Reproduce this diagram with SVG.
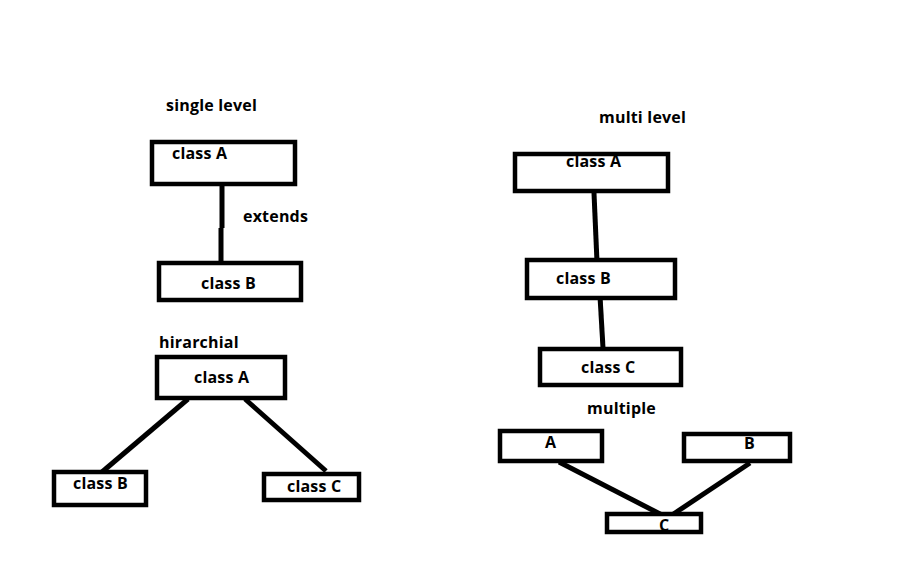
<svg xmlns="http://www.w3.org/2000/svg" width="911" height="564" viewBox="0 0 911 564">
<style>
.box{fill:#fff;stroke:#000;stroke-width:4.5}
.t{font-family:"Open Sans","Noto Sans","Liberation Sans",sans-serif;font-weight:bold;font-size:16px;letter-spacing:0.2px;fill:#000}
.ln{stroke:#000;stroke-width:5;fill:none;stroke-linecap:butt}
</style>
<rect width="911" height="564" fill="#fff"/>
<text class="t" x="166" y="111">single level</text>
<text class="t" x="159" y="348">hirarchial</text>
<text class="t" x="599" y="123">multi level</text>
<text class="t" x="587" y="414">multiple</text>
<text class="t" x="243" y="222">extends</text>
<g id="connectors">
<path class="ln" d="M222,186 L222,228 M221,228 L221,268"/>
<path class="ln" d="M188,399 L102,472"/>
<path class="ln" d="M245,399 L326,471"/>
<path class="ln" d="M594,193 L597,262"/>
<path class="ln" d="M600,296 L603,348"/>
<path class="ln" d="M559,462 L664,516"/>
<path class="ln" d="M750,463 L672,515"/>
</g>
<g id="sl-a"><rect class="box" x="152" y="142" width="143" height="42"/><text class="t" x="172" y="159">class A</text></g>
<g id="sl-b"><rect class="box" x="159" y="263" width="142" height="37"/><text class="t" x="201" y="289">class B</text></g>
<g id="h-a"><rect class="box" x="157" y="357" width="128" height="41"/><text class="t" x="194" y="383">class A</text></g>
<g id="h-b"><rect class="box" x="54" y="472" width="92" height="33"/><text class="t" x="73" y="489">class B</text></g>
<g id="h-c"><rect class="box" x="264" y="474" width="95" height="26"/><text class="t" x="287" y="492">class C</text></g>
<g id="ml-a"><rect class="box" x="515" y="154" width="153" height="37"/><text class="t" x="566" y="167">class A</text></g>
<g id="ml-b"><rect class="box" x="527" y="260" width="148" height="38"/><text class="t" x="556" y="284">class B</text></g>
<g id="ml-c"><rect class="box" x="540" y="349" width="141" height="36"/><text class="t" x="581" y="373">class C</text></g>
<g id="m-a"><rect class="box" x="500" y="431" width="102" height="30"/><text class="t" x="545" y="448">A</text></g>
<g id="m-b"><rect class="box" x="684" y="434" width="106" height="27"/><text class="t" x="744" y="449">B</text></g>
<g id="m-c"><rect class="box" x="607" y="514" width="94" height="18"/><text class="t" x="659" y="531">C</text></g>
</svg>
